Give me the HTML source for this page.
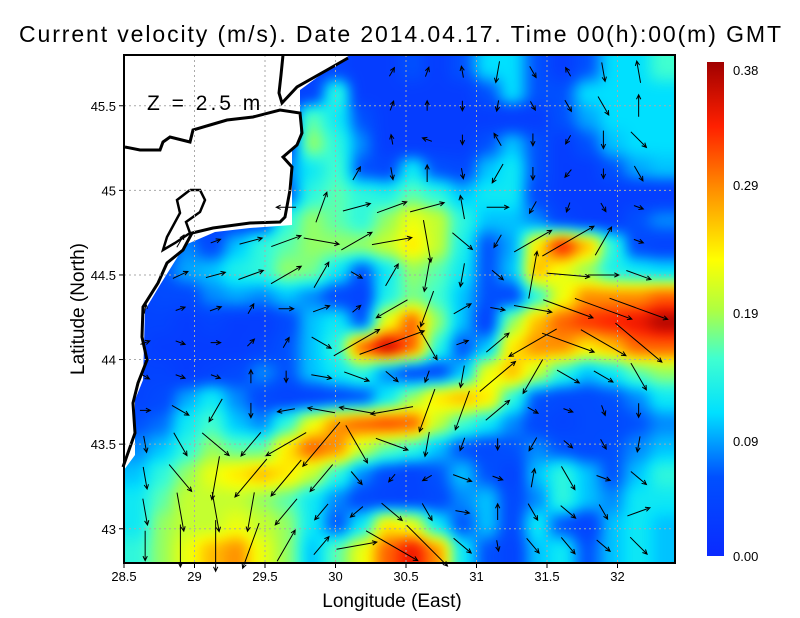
<!DOCTYPE html>
<html><head><meta charset="utf-8"><style>
body{margin:0;background:#fff;width:800px;height:618px;overflow:hidden;position:relative}
#hm{position:absolute;left:124px;top:55px;width:551px;height:508px}
#c{position:absolute;left:0;top:0}
svg text{font-family:"Liberation Sans",sans-serif;fill:#000}
</style></head><body>
<canvas id="hm" width="551" height="508"></canvas>
<svg id="c" width="800" height="618" viewBox="0 0 800 618">
<defs>
<linearGradient id="cg" x1="0" y1="1" x2="0" y2="0">
<stop offset="0" stop-color="#0a2aff"/><stop offset="0.16" stop-color="#0050ff"/><stop offset="0.29" stop-color="#00e0ff"/><stop offset="0.4" stop-color="#40ffd0"/><stop offset="0.5" stop-color="#b0ff40"/><stop offset="0.6" stop-color="#ffff00"/><stop offset="0.74" stop-color="#ff9000"/><stop offset="0.87" stop-color="#ff2000"/><stop offset="1" stop-color="#a00000"/>
</linearGradient>
</defs>
<text x="400" y="42" font-size="23" text-anchor="middle" textLength="762">Current velocity (m/s). Date 2014.04.17. Time 00(h):00(m) GMT</text>
<polygon points="124,55 350,55 330,68 300,90 300,140 292,150 292,225 250,228 215,232 185,245 160,285 145,310 143,380 135,400 135,455 124,470" fill="#fff"/>
<g fill="none" stroke="#000" stroke-width="3">
<path d="M283,55 L281,75 279,93 282,103 L297,87 327,70 348,58"/>
<path d="M125,147 L140,150 160,150 163,142 170,137 190,142 193,130 210,125 227,120 253,117 280,110 300,113 302,133 297,145 283,157 292,167 290,190 285,217 280,222 250,223 213,228 192,233 183,250 167,263 158,283 143,307 142,337 147,360 138,383 133,403 135,433 123,467"/>
<path d="M190,190 L177,200 180,213 167,237 163,250 175,243 190,233 186,222 200,212 205,200 200,190 190,190" stroke-width="2.5"/>
</g>
<g id="grid" stroke="#aaa" stroke-width="1" stroke-dasharray="2,3"></g>
<g id="arrows" stroke="#000" stroke-width="1" fill="none"></g>
<text x="147" y="110" font-size="21" fill="#333" letter-spacing="3">Z = 2.5 m</text>
<rect x="124" y="55" width="551" height="508" fill="none" stroke="#000" stroke-width="2"/>
<g id="ticks" font-size="13"></g>
<text x="392" y="607" font-size="19" text-anchor="middle">Longitude (East)</text>
<text transform="translate(84,309) rotate(-90)" font-size="19" text-anchor="middle">Latitude (North)</text>
<rect x="707" y="62" width="17" height="494" fill="url(#cg)"/>
<g id="cbl" font-size="13"></g>
</svg>
<script>
const lonTicks=[28.5,29,29.5,30,30.5,31,31.5,32];
const latTicks=[43,43.5,44,44.5,45,45.5];
const cbTicks=["0.00","0.09","0.19","0.29","0.38"];
const speedGrid=[
[0,0,0,0,0,0,0,0,0,.03,.03,.06,.03,.06,.11,.11,.06,.03,.06,.11,.11,.15],
[0,0,0,0,0,0,0,0,.14,.03,.03,.03,.03,.03,.06,.11,.06,.06,.11,.11,.11,.11],
[0,0,0,0,0,0,0,.16,.12,.06,.03,.03,.03,.03,.03,.03,.03,.06,.09,.11,.11,.11],
[0,0,0,0,0,0,0,.18,.14,.08,.03,.03,.03,.03,.06,.10,.06,.03,.06,.10,.11,.11],
[0,0,0,0,0,0,.08,.12,.15,.06,.05,.12,.06,.05,.10,.12,.06,.03,.03,.06,.09,.10],
[0,0,0,0,0,0,.06,.14,.16,.14,.13,.16,.14,.10,.12,.12,.05,.03,.03,.03,.03,.03],
[0,0,0,0,0,0,.14,.18,.16,.14,.18,.22,.20,.14,.10,.10,.08,.04,.03,.03,.06,.08],
[0,0,.08,.05,.10,.14,.16,.18,.18,.18,.20,.24,.20,.13,.06,.09,.24,.33,.26,.14,.05,.04],
[0,.06,.09,.10,.13,.14,.18,.17,.12,.06,.12,.18,.16,.12,.06,.10,.26,.22,.18,.13,.12,.11],
[0,.05,.05,.08,.09,.08,.10,.08,.05,.04,.13,.17,.15,.10,.06,.05,.14,.22,.28,.28,.28,.30],
[.04,.04,.03,.04,.03,.03,.05,.10,.12,.06,.22,.30,.18,.10,.04,.18,.26,.30,.32,.33,.34,.37],
[.04,.03,.03,.03,.03,.04,.06,.10,.14,.30,.36,.30,.14,.06,.10,.24,.28,.28,.24,.26,.30,.30],
[.04,.04,.03,.04,.05,.08,.06,.10,.12,.14,.08,.05,.05,.10,.22,.26,.20,.14,.10,.12,.16,.18],
[.04,.05,.09,.12,.08,.05,.04,.04,.05,.06,.12,.18,.24,.26,.24,.14,.06,.05,.05,.06,.08,.12],
[.06,.07,.12,.15,.10,.08,.14,.22,.28,.30,.31,.30,.20,.15,.12,.08,.05,.04,.05,.05,.06,.08],
[.08,.10,.14,.18,.16,.16,.24,.30,.28,.20,.16,.14,.10,.06,.05,.06,.08,.06,.05,.06,.08,.10],
[.10,.14,.18,.22,.24,.26,.24,.20,.14,.08,.05,.04,.06,.10,.06,.04,.10,.14,.10,.06,.10,.14],
[.12,.16,.20,.20,.20,.18,.16,.12,.08,.05,.04,.04,.05,.08,.10,.05,.08,.14,.10,.08,.12,.12],
[.12,.18,.20,.20,.22,.20,.18,.12,.06,.12,.24,.22,.12,.06,.10,.05,.12,.06,.04,.10,.12,.10],
[.14,.18,.22,.26,.28,.22,.18,.10,.16,.22,.30,.34,.28,.12,.06,.04,.10,.12,.06,.10,.12,.10]];
const arrowLons=[28.65,28.9,29.15,29.4,29.65,29.9,30.15,30.4,30.65,30.9,31.15,31.4,31.65,31.9,32.15];
const arrowLats=[45.7,45.5,45.3,45.1,44.9,44.7,44.5,44.3,44.1,43.9,43.7,43.5,43.3,43.1,42.9];
const N=null;
const arrowDir=[
[N,N,N,N,N,N,N,60,70,100,-100,-60,120,-80,100],
[N,N,N,N,N,N,N,70,90,-90,-100,-60,-60,-60,90],
[N,N,N,N,N,N,N,100,160,-90,120,-90,-120,-90,-45],
[N,N,N,N,N,N,60,-80,90,-80,-120,-90,-130,-90,-60],
[N,N,N,N,180,70,15,20,15,100,0,-120,-110,-60,-20],
[N,60,20,15,20,-10,30,10,-80,-40,-120,30,30,60,-20],
[N,25,15,20,30,60,-30,60,-100,-100,-40,80,-5,0,-20],
[80,20,20,60,0,20,40,-150,-110,30,-10,-10,-20,-20,-20],
[20,-20,0,45,60,-30,30,20,-60,20,40,-150,-20,-30,-40],
[-30,-20,-20,90,-90,-10,-20,-40,-110,-100,40,-120,-30,-30,-60],
[0,-30,-120,-90,-170,170,170,-170,-110,-110,40,-30,-20,-70,-90],
[-80,-60,-40,-130,-150,-130,-60,-20,-100,-110,-90,-120,-40,-60,-100],
[-80,-50,-100,-130,-130,-130,-50,-130,-150,-20,-20,80,-60,-20,-40],
[-80,-80,-80,-100,-130,-130,-140,-40,-60,-10,90,-60,-40,-60,20],
[-90,-90,-90,-110,60,50,10,-30,-45,-40,-80,-50,-50,-40,-45]];
const X0=124,X1=675,Y0=55,Y1=563,LON0=28.5,LAT1=45.8;
const xs=lon=>X0+(lon-LON0)*141;
const ys=lat=>Y0+(LAT1-lat)*169.2;
const NS='http://www.w3.org/2000/svg';
function mk(t,a,p){const e=document.createElementNS(NS,t);for(const k in a)e.setAttribute(k,a[k]);p.appendChild(e);return e;}
const stops=[[0,[10,42,255]],[.06,[0,80,255]],[.11,[0,224,255]],[.15,[64,255,208]],[.19,[176,255,64]],[.23,[255,255,0]],[.28,[255,144,0]],[.33,[255,32,0]],[.38,[160,0,0]]];
function rgb(v){v=Math.max(0,Math.min(.38,v));for(let i=1;i<stops.length;i++){if(v<=stops[i][0]){const a=stops[i-1],b=stops[i],t=(v-a[0])/(b[0]-a[0]);return a[1].map((c,k)=>Math.round(c+(b[1][k]-c)*t));}}return [160,0,0];}
const rows=speedGrid.length,cols=speedGrid[0].length,cw=(X1-X0)/cols,ch=(Y1-Y0)/rows;
const sm=t=>t*t*(3-2*t);
function gv(j,i){const v=speedGrid[j][i];return v===0?0.04:v;}
function spd(x,y){const fi=Math.max(0,Math.min(cols-1,(x-X0)/cw-.5)),fj=Math.max(0,Math.min(rows-1,(y-Y0)/ch-.5));
const i=Math.floor(fi),j=Math.floor(fj),i2=Math.min(cols-1,i+1),j2=Math.min(rows-1,j+1),a=sm(fi-i),b=sm(fj-j);
return gv(j,i)*(1-a)*(1-b)+gv(j,i2)*a*(1-b)+gv(j2,i)*(1-a)*b+gv(j2,i2)*a*b;}
const P=30,W=551+2*P,H=508+2*P;
const off=document.createElement('canvas');off.width=W;off.height=H;
const ox=off.getContext('2d'),img=ox.createImageData(W,H);
for(let py=0;py<H;py++)for(let px=0;px<W;px++){const c=rgb(spd(X0+px-P+.5,Y0+py-P+.5));const k=(py*W+px)*4;img.data[k]=c[0];img.data[k+1]=c[1];img.data[k+2]=c[2];img.data[k+3]=255;}
ox.putImageData(img,0,0);
const cx=document.getElementById('hm').getContext('2d');
cx.filter='blur(5px)';
cx.drawImage(off,-P,-P);
const grid=document.getElementById('grid'),ticks=document.getElementById('ticks');
lonTicks.forEach(l=>{const x=xs(l);
if(l>LON0){const g=mk('line',{x1:x,y1:Y0,x2:x,y2:Y1},grid);}
mk('line',{x1:x,y1:Y1,x2:x,y2:Y1+5,stroke:'#000'},ticks);
const t=mk('text',{x:x,y:Y1+18,'text-anchor':'middle'},ticks);t.textContent=l;
});
latTicks.forEach(l=>{const y=ys(l);
const g=mk('line',{x1:X0,y1:y,x2:X1,y2:y},grid);
mk('line',{x1:X0-5,y1:y,x2:X0,y2:y,stroke:'#000'},ticks);
const t=mk('text',{x:X0-8,y:y+5,'text-anchor':'end'},ticks);t.textContent=l;
});
const cbl=document.getElementById('cbl');
cbTicks.forEach(s=>{const v=parseFloat(s);const y=556-v/0.38*486;
const t=mk('text',{x:733,y:y+5},cbl);t.textContent=s;
});
const ag=document.getElementById('arrows');
arrowDir.forEach((r,j)=>r.forEach((d,i)=>{if(d===null)return;
const x=xs(arrowLons[i]),y=ys(arrowLats[j]);
const L=Math.max(10,spd(x,y)*200),rad=d*Math.PI/180;
const dx=Math.cos(rad)*L,dy=-Math.sin(rad)*L;
const x1=x-dx/2,y1=y-dy/2,x2=x+dx/2,y2=y+dy/2;
const h=5,ang=Math.atan2(dy,dx);
const p=mk('path',{d:`M${x1},${y1}L${x2},${y2}M${x2-h*Math.cos(ang-0.45)},${y2-h*Math.sin(ang-0.45)}L${x2},${y2}L${x2-h*Math.cos(ang+0.45)},${y2-h*Math.sin(ang+0.45)}`},ag);


}));
</script>
</body></html>
